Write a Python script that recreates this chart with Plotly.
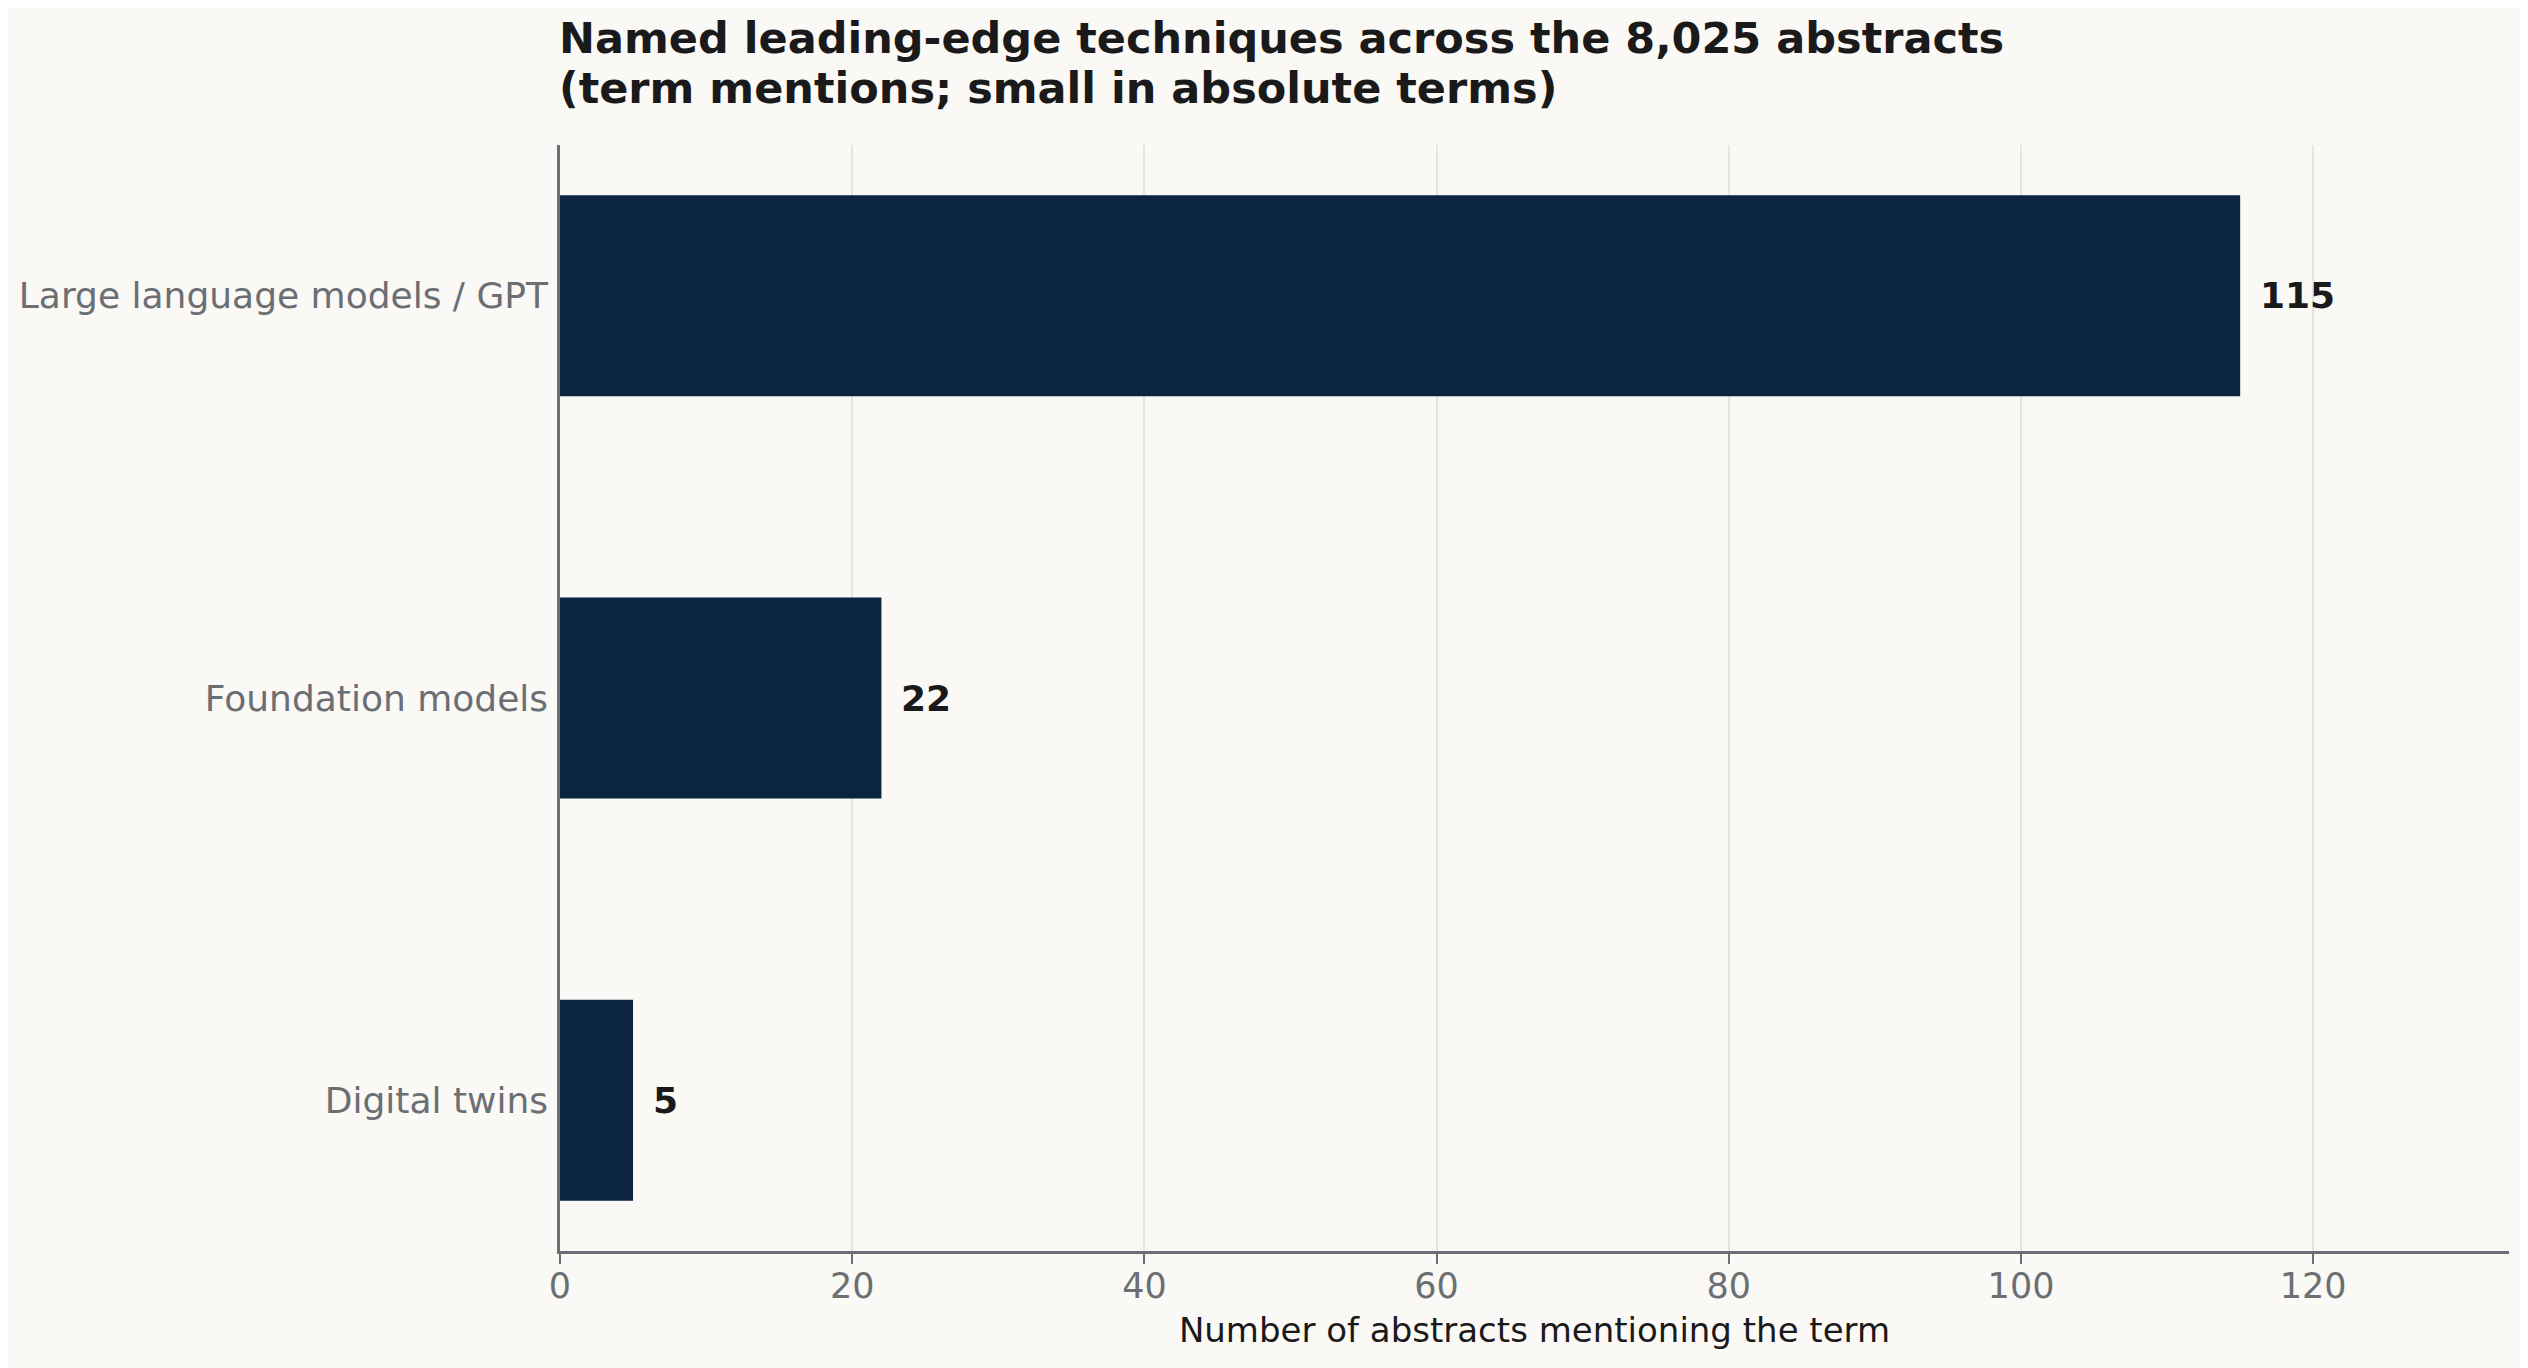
import plotly.graph_objects as go

# Data
categories = ["Large language models / GPT", "Foundation models", "Digital twins"]
counts = [115, 22, 5]
x_ticks = [0, 20, 40, 60, 80, 100, 120]
title_lines = [
    "Named leading-edge techniques across the 8,025 abstracts",
    "(term mentions; small in absolute terms)",
]

BG = "#faf9f6"
BAR = "#0b2540"
AXIS = "#6b6e76"
TICK = "#6b6e73"
GRID = "#e6e5e2"
TXT = "#1a1a1a"
FONT = "DejaVu Sans"

W, H = 2528, 1368

fig = go.Figure()
fig.add_trace(go.Bar(
    x=counts, y=categories, orientation="h",
    marker=dict(color=BAR, line=dict(width=0)),
    width=0.5, hoverinfo="skip", showlegend=False,
))

for c, v in zip(categories, counts):
    fig.add_annotation(
        x=v, y=c, xref="x", yref="y", text=f"<b>{v}</b>",
        showarrow=False, xanchor="left", yanchor="middle", xshift=18,
        font=dict(family=FONT, size=36, color=TXT),
    )

for line, ys in zip(title_lines, [107, 57]):
    fig.add_annotation(
        x=0, xref="paper", xanchor="left", xshift=-3,
        y=1, yref="paper", yanchor="middle", yshift=ys,
        text=f"<b>{line}</b>", showarrow=False, align="left",
        font=dict(family=FONT, size=43, color=TXT),
    )

fig.update_layout(
    width=W, height=H,
    paper_bgcolor=BG, plot_bgcolor=BG,
    margin=dict(l=552, r=27, t=137, b=125, pad=0, autoexpand=False),
    font=dict(family=FONT, color=TXT),
    xaxis=dict(
        range=[0, 133.4], tickvals=x_ticks, ticktext=[str(t) for t in x_ticks],
        automargin=False,
        showgrid=True, gridcolor=GRID, gridwidth=1.5,
        zeroline=False, showline=True, linecolor=AXIS, linewidth=2.5,
        ticks="outside", ticklen=10, tickwidth=2, tickcolor=AXIS,
        ticklabelstandoff=-8,
        tickfont=dict(family=FONT, size=35, color=TICK),
        title=dict(text="Number of abstracts mentioning the term",
                   font=dict(family=FONT, size=34, color=TXT), standoff=14),
    ),
    yaxis=dict(
        categoryorder="array", categoryarray=categories,
        range=[2.375, -0.375], automargin=False,
        showgrid=False, zeroline=False, showline=True, linecolor=AXIS, linewidth=2.5,
        ticks="", ticklabelstandoff=2,
        tickfont=dict(family=FONT, size=36, color=TICK),
    ),
)

fig.write_html("out.html")
